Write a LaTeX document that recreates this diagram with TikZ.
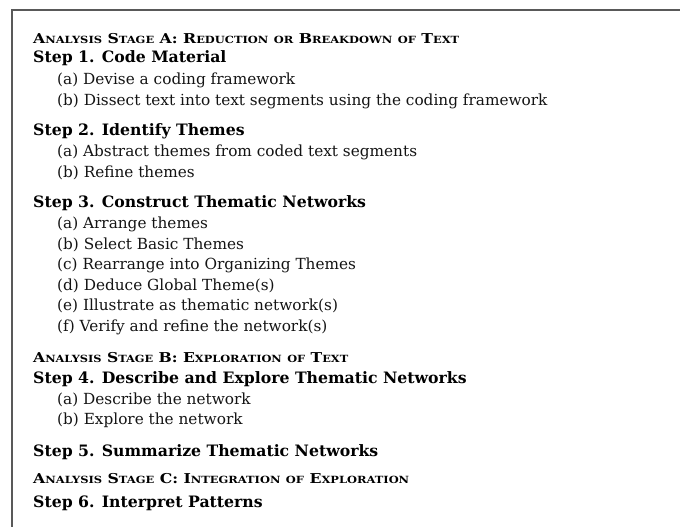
\documentclass[tikz,border=0pt]{standalone}
\usepackage{fontspec}
\setmainfont{DejaVu Serif}
\usepackage{graphicx}
\newcommand{\stg}[2]{{\fontsize{13.6}{16}\selectfont #1}{\fontsize{9.9}{11}\selectfont #2}}
\tikzset{
  heading/.style={anchor=base west, inner sep=0pt, font=\bfseries\fontsize{15.7}{18}\selectfont, text=black},
  itemline/.style={anchor=base west, inner sep=0pt, font=\fontsize{15.3}{18}\selectfont, text=black!92},
  stage/.style={anchor=base west, inner sep=0pt, font=\bfseries\fontsize{13.6}{16}\selectfont, text=black},
  frame/.style={draw=black!65, line width=1.8pt}
}
\begin{document}
\begin{tikzpicture}[x=1pt, y=-1pt]
\useasboundingbox (0,0) rectangle (680,527);
\fill[white] (0,0) rectangle (680,527);
\draw[frame] (12,527) -- (12,10) -- (680,10);

\node[stage] (stA) at (33,44) {\resizebox{426pt}{\height}{\stg{A}{NALYSIS} \stg{S}{TAGE} \stg{A:}{} \stg{R}{EDUCTION} \stg{}{OR} \stg{B}{REAKDOWN} \stg{}{OF} \stg{T}{EXT}}};
\node[heading] (s1) at (33,62.5) {Step 1. Code Material};
\node[itemline] (s1a) at (57,84.5) {(a) Devise a coding framework};
\node[itemline] (s1b) at (57,106) {(b) Dissect text into text segments using the coding framework};

\node[heading] (s2) at (33,135) {Step 2. Identify Themes};
\node[itemline] (s2a) at (57,156.5) {(a) Abstract themes from coded text segments};
\node[itemline] (s2b) at (57,177.5) {(b) Refine themes};

\node[heading] (s3) at (33,207.5) {Step 3. Construct Thematic Networks};
\node[itemline] (s3a) at (57,228.5) {(a) Arrange themes};
\node[itemline] (s3b) at (57,249) {(b) Select Basic Themes};
\node[itemline] (s3c) at (57,269.5) {(c) Rearrange into Organizing Themes};
\node[itemline] (s3d) at (57,290) {(d) Deduce Global Theme(s)};
\node[itemline] (s3e) at (57,310.5) {(e) Illustrate as thematic network(s)};
\node[itemline] (s3f) at (57,331) {(f) Verify and refine the network(s)};

\node[stage] (stB) at (33,362.5) {\resizebox{315pt}{\height}{\stg{A}{NALYSIS} \stg{S}{TAGE} \stg{B:}{} \stg{E}{XPLORATION} \stg{}{OF} \stg{T}{EXT}}};
\node[heading] (s4) at (33,383.5) {Step 4. Describe and Explore Thematic Networks};
\node[itemline] (s4a) at (57,404) {(a) Describe the network};
\node[itemline] (s4b) at (57,424) {(b) Explore the network};

\node[heading] (s5) at (33,456) {Step 5. Summarize Thematic Networks};

\node[stage] (stC) at (33,483.5) {\resizebox{376pt}{\height}{\stg{A}{NALYSIS} \stg{S}{TAGE} \stg{C:}{} \stg{I}{NTEGRATION} \stg{}{OF} \stg{E}{XPLORATION}}};
\node[heading] (s6) at (33,507.5) {Step 6. Interpret Patterns};
\end{tikzpicture}
\end{document}
